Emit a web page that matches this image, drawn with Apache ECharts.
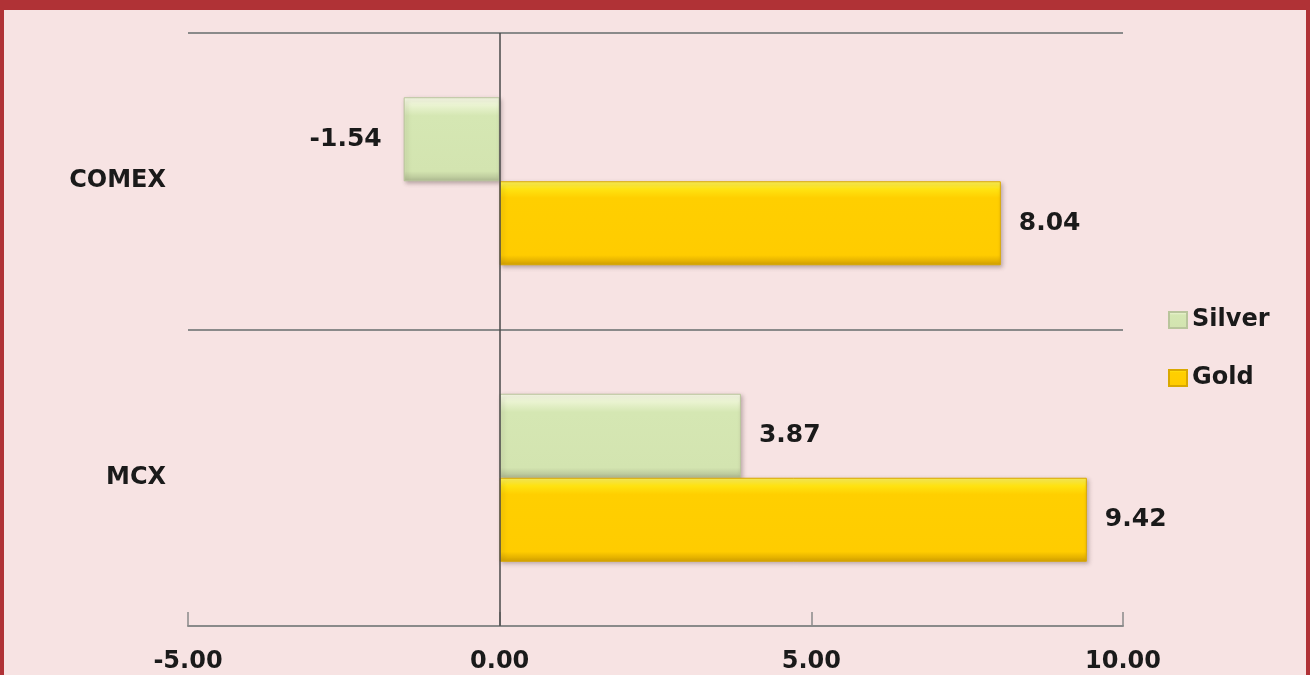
<!DOCTYPE html>
<html>
<head>
<meta charset="utf-8">
<script src="https://cdn.jsdelivr.net/npm/echarts@6/dist/echarts.min.js"></script>
<style>
  html, body { margin: 0; padding: 0; background: #f7e3e3; }
  #chart { width: 1310px; height: 675px; }
</style>
</head>
<body>
<div id="chart"></div>
<script>
// data
const markets = ['COMEX', 'MCX'];
const silver = [-1.54, 3.87];
const gold = [8.04, 9.42];
const xTicks = { min: -5, max: 10, step: 5 };

const font = '"DejaVu Sans", sans-serif';
const txt = '#1a1a1a';

const silverFill = new echarts.graphic.LinearGradient(0, 0, 0, 1, [
    { offset: 0, color: '#fbfdea' },
    { offset: 0.12, color: '#e6f1cb' },
    { offset: 0.22, color: '#d5e7b3' },
    { offset: 0.88, color: '#d3e4b0' },
    { offset: 1, color: '#b0bc92' }
]);
const goldFill = new echarts.graphic.LinearGradient(0, 0, 0, 1, [
    { offset: 0, color: '#fff55a' },
    { offset: 0.1, color: '#ffe210' },
    { offset: 0.2, color: '#ffcf00' },
    { offset: 0.88, color: '#ffcc00' },
    { offset: 1, color: '#d2a000' }
]);

const valueLabel = {
    show: true,
    position: 'right',
    distance: 18,
    formatter: p => p.value.toFixed(2),
    fontFamily: font,
    fontWeight: 'bold',
    fontSize: 25,
    color: txt
};

const chart = echarts.init(document.getElementById('chart'));
chart.setOption({
    backgroundColor: '#f7e3e3',
    animation: false,
    grid: { left: 188, right: 187, top: 33, bottom: 49 },
    legend: {
        orient: 'vertical',
        left: 1163,
        top: 301,
        itemWidth: 18,
        itemHeight: 16,
        itemGap: 30,
        icon: 'rect',
        textStyle: { fontFamily: font, fontWeight: 'bold', fontSize: 24, lineHeight: 28, color: txt },
        data: ['Silver', 'Gold']
    },
    xAxis: {
        type: 'value',
        min: xTicks.min,
        max: xTicks.max,
        interval: xTicks.step,
        axisLine: { show: true, lineStyle: { color: '#8a8a8a', width: 2 } },
        axisTick: { show: true, inside: true, length: 14, lineStyle: { color: '#8a8a8a', width: 1.5 } },
        axisLabel: {
            formatter: v => v.toFixed(2),
            fontFamily: font, fontWeight: 'bold', fontSize: 24, color: txt, margin: 24
        },
        splitLine: { show: false }
    },
    yAxis: {
        type: 'category',
        data: markets,
        inverse: true,
        axisLine: { show: false, onZero: false },
        axisTick: { show: false },
        axisLabel: { fontFamily: font, fontWeight: 'bold', fontSize: 24, color: txt, margin: 22 },
        splitLine: { show: true, lineStyle: { color: '#8a8a8a', width: 2 } }
    },
    series: [
        {
            name: 'Silver',
            type: 'bar',
            data: silver.map(v => ({
                value: v,
                label: v < 0 ? { position: 'left', distance: 22 } : {}
            })),
            barWidth: 84,
            barGap: '0%',
            itemStyle: {
                color: silverFill,
                borderColor: '#b9c59c',
                borderWidth: 1,
                shadowBlur: 4,
                shadowOffsetX: 2,
                shadowOffsetY: 2,
                shadowColor: 'rgba(80,60,60,0.35)'
            },
            label: valueLabel,
            markLine: {
                silent: true,
                symbol: 'none',
                label: { show: false },
                lineStyle: { color: '#4a4a4a', width: 1.5, type: 'solid' },
                data: [{ xAxis: 0 }]
            }
        },
        {
            name: 'Gold',
            type: 'bar',
            data: gold,
            barWidth: 84,
            barGap: '0%',
            itemStyle: {
                color: goldFill,
                borderColor: '#d9a800',
                borderWidth: 1,
                shadowBlur: 4,
                shadowOffsetX: 2,
                shadowOffsetY: 2,
                shadowColor: 'rgba(80,60,60,0.35)'
            },
            label: valueLabel
        }
    ],
    graphic: [
        { type: 'rect', left: 0, top: 0, shape: { width: 1310, height: 10 }, style: { fill: '#b03236' }, z: 100 },
        { type: 'rect', left: 0, top: 0, shape: { width: 4, height: 675 }, style: { fill: '#b03236' }, z: 100 },
        { type: 'rect', left: 1306, top: 0, shape: { width: 4, height: 675 }, style: { fill: '#b03236' }, z: 100 }
    ]
});
</script>
</body>
</html>
